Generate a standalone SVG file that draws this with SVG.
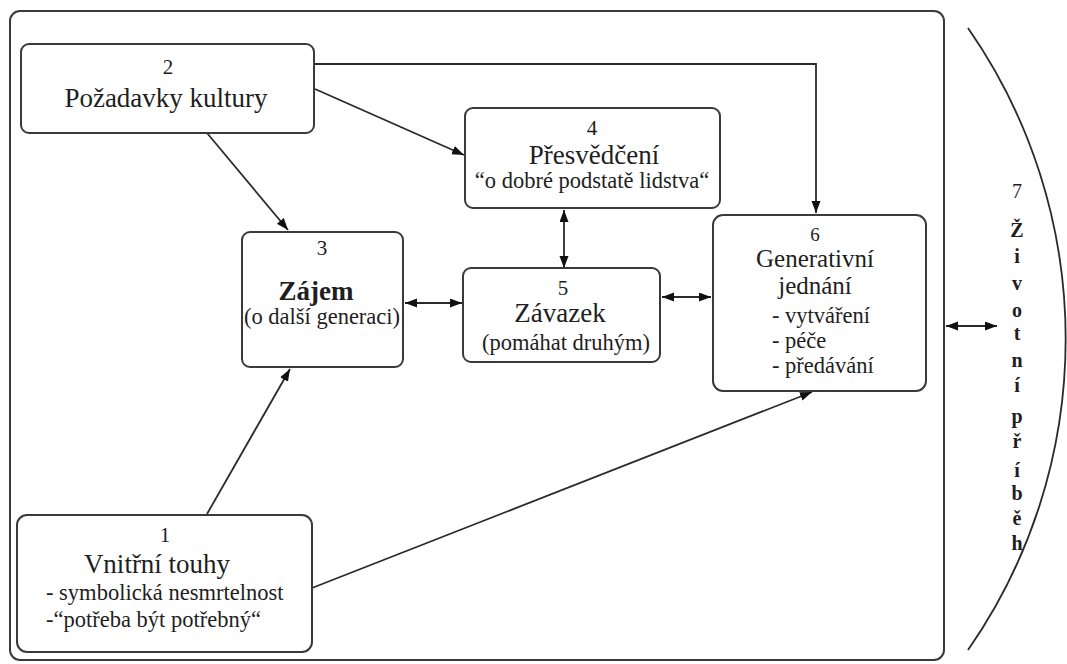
<svg xmlns="http://www.w3.org/2000/svg" width="1067" height="664" viewBox="0 0 1067 664">
<style>
.box{fill:#fff;stroke:#3a3a3a;stroke-width:2}
.frame{fill:#fff;stroke:#3a3a3a;stroke-width:2}
text{fill:#1e1e1e;font-family:'Liberation Serif','Times New Roman',serif !important}
.num{font-size:21px;text-anchor:middle}
.title{font-size:27px;text-anchor:middle}
.sub{font-size:22.5px;text-anchor:middle}
.item{font-size:22.5px}
.vert{font-size:20px;font-weight:bold;text-anchor:middle}
.con{fill:none;stroke:#2a2a2a;stroke-width:1.8}
</style>
<defs>
<marker id="ah" markerUnits="userSpaceOnUse" markerWidth="13" markerHeight="10" refX="12" refY="4.5" orient="auto-start-reverse">
<path d="M0,0 L12,4.5 L0,9 z" fill="#111"/>
</marker>
</defs>
<rect width="1067" height="664" fill="#fff"/>
<rect id="frame" class="frame" x="10" y="11" width="934" height="649" rx="10"/>

<g id="connectors">
<path class="con" d="M314,64 L816,64 L816,213" marker-end="url(#ah)"/>
<path class="con" d="M315,89 L464,155" marker-end="url(#ah)"/>
<path class="con" d="M207,133 L288,230" marker-end="url(#ah)"/>
<path class="con" d="M564,210 L564,268" marker-start="url(#ah)" marker-end="url(#ah)"/>
<path class="con" d="M405,303 L462,303" marker-start="url(#ah)" marker-end="url(#ah)"/>
<path class="con" d="M662,297 L711,297" marker-start="url(#ah)" marker-end="url(#ah)"/>
<path class="con" d="M207,514 L290,369" marker-end="url(#ah)"/>
<path class="con" d="M312,588 L812,392" marker-end="url(#ah)"/>
<path class="con" d="M946,326 L997,326" marker-start="url(#ah)" marker-end="url(#ah)"/>
</g>

<g id="node2">
<rect class="box" x="21" y="44" width="293" height="89" rx="8"/>
<text class="num" style="font-family:'Liberation Serif',serif" x="168" y="74">2</text>
<text class="title" style="font-family:'Liberation Serif',serif" x="166" y="107">Požadavky kultury</text>
</g>

<g id="node4">
<rect class="box" x="465" y="108" width="255" height="100" rx="8"/>
<text class="num" style="font-family:'Liberation Serif',serif" x="592" y="135">4</text>
<text class="title" style="font-family:'Liberation Serif',serif" x="594" y="164">Přesvědčení</text>
<text class="sub" style="font-family:'Liberation Serif',serif" x="592" y="188">“o dobré podstatě lidstva“</text>
</g>

<g id="node3">
<rect class="box" x="242" y="232" width="161" height="135" rx="8"/>
<text class="num" style="font-family:'Liberation Serif',serif" x="322" y="255">3</text>
<text class="title" style="font-family:'Liberation Serif',serif" x="316" y="300" font-weight="bold" font-size="25">Zájem</text>
<text class="sub" style="font-family:'Liberation Serif',serif" x="322" y="324">(o další generaci)</text>
</g>

<g id="node5">
<rect class="box" x="463" y="268" width="197" height="94" rx="8"/>
<text class="num" style="font-family:'Liberation Serif',serif" x="563" y="295">5</text>
<text class="title" style="font-family:'Liberation Serif',serif" x="560" y="322">Závazek</text>
<text class="sub" style="font-family:'Liberation Serif',serif" x="566" y="350">(pomáhat druhým)</text>
</g>

<g id="node6">
<rect class="box" x="713" y="215" width="213" height="176" rx="10"/>
<text class="num" style="font-family:'Liberation Serif',serif;font-size:19px" x="815" y="241">6</text>
<text class="title" style="font-family:'Liberation Serif',serif;font-size:25px" x="815" y="267">Generativní</text>
<text class="title" style="font-family:'Liberation Serif',serif;font-size:25px" x="815" y="294">jednání</text>
<text class="item" style="font-family:'Liberation Serif',serif" x="772" y="323">- vytváření</text>
<text class="item" style="font-family:'Liberation Serif',serif" x="772" y="348">- péče</text>
<text class="item" style="font-family:'Liberation Serif',serif" x="772" y="373">- předávání</text>
</g>

<g id="node1">
<rect class="box" x="17" y="515" width="295" height="137" rx="10"/>
<text class="num" style="font-family:'Liberation Serif',serif" x="165" y="542">1</text>
<text class="title" style="font-family:'Liberation Serif',serif" x="157" y="573">Vnitřní touhy</text>
<text class="item" style="font-family:'Liberation Serif',serif" x="46" y="600">- symbolická nesmrtelnost</text>
<text class="item" style="font-family:'Liberation Serif',serif" x="46" y="627">-“potřeba být potřebný“</text>
</g>

<g id="node7">
<path class="con" d="M968,28 A544,544 0 0 1 968,650"/>
<text class="vert" style="font-family:'Liberation Serif',serif;font-weight:normal" x="1017" y="198">7</text>
<text class="vert" style="font-family:'Liberation Serif',serif" x="1017" y="237">Ž</text>
<text class="vert" style="font-family:'Liberation Serif',serif" x="1017" y="263">i</text>
<text class="vert" style="font-family:'Liberation Serif',serif" x="1017" y="290">v</text>
<text class="vert" style="font-family:'Liberation Serif',serif" x="1017" y="317">o</text>
<text class="vert" style="font-family:'Liberation Serif',serif" x="1017" y="340">t</text>
<text class="vert" style="font-family:'Liberation Serif',serif" x="1017" y="367">n</text>
<text class="vert" style="font-family:'Liberation Serif',serif" x="1017" y="392">í</text>
<text class="vert" style="font-family:'Liberation Serif',serif" x="1017" y="423">p</text>
<text class="vert" style="font-family:'Liberation Serif',serif" x="1017" y="448">ř</text>
<text class="vert" style="font-family:'Liberation Serif',serif" x="1017" y="477">í</text>
<text class="vert" style="font-family:'Liberation Serif',serif" x="1017" y="500">b</text>
<text class="vert" style="font-family:'Liberation Serif',serif" x="1017" y="525">ě</text>
<text class="vert" style="font-family:'Liberation Serif',serif" x="1017" y="550">h</text>
</g>
</svg>
